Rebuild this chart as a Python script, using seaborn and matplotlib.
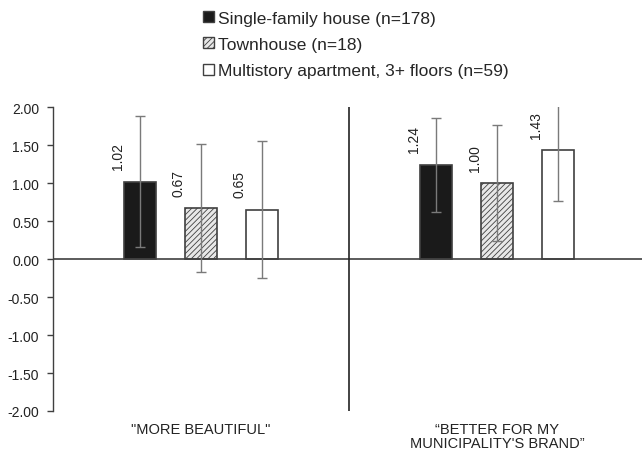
import numpy as np
import pandas as pd
import matplotlib
matplotlib.use('Agg')
import matplotlib.pyplot as plt
import matplotlib.patches as mpatches
import seaborn as sns

# data
categories = ['"MORE BEAUTIFUL"', '\u201cBETTER FOR MY\nMUNICIPALITY\'S BRAND\u201d']
housing = ['Single-family house (n=178)', 'Townhouse (n=18)',
           'Multistory apartment, 3+ floors (n=59)']
means_beautiful = [1.02, 0.67, 0.65]
means_brand = [1.24, 1.00, 1.43]
err_beautiful = [0.86, 0.84, 0.90]
err_brand = [0.62, 0.76, 0.66]
yticks = [-2.0, -1.5, -1.0, -0.5, 0.0, 0.5, 1.0, 1.5, 2.0]

df = pd.DataFrame({
    'statement': [categories[0]] * 3 + [categories[1]] * 3,
    'housing': housing * 2,
    'mean': means_beautiful + means_brand,
    'err': err_beautiful + err_brand,
})

sns.set_style('white')
plt.rcParams['font.family'] = ['Liberation Sans', 'DejaVu Sans']
plt.rcParams['hatch.linewidth'] = 0.6

fig = plt.figure(figsize=(6.42, 4.56), dpi=100)
ax = fig.add_axes([0.0826, 0.0965, 0.922, 0.6665])

faces = ['#1a1a1a', '#ffffff', '#ffffff']
hatches = ['', '//////', '']
edge = '#404040'

sns.barplot(data=df, x='statement', y='mean', hue='housing', hue_order=housing,
            palette=faces, width=0.62, gap=0.48, edgecolor=edge, linewidth=1.2,
            legend=False, ax=ax)

# style bars per hue and add error bars + labels
bars = [p for p in ax.patches if isinstance(p, mpatches.Rectangle)]
for i, h in enumerate(housing):
    sub = df[df['housing'] == h]
    for j, (_, row) in enumerate(sub.iterrows()):
        p = bars[i * len(categories) + j]
        p.set_hatch(hatches[i])
        if hatches[i]:
            p.set_facecolor('#e8e8e8')
        cx = p.get_x() + p.get_width() / 2
        ax.errorbar(cx, row['mean'], yerr=row['err'], fmt='none',
                    ecolor='#7a7a7a', elinewidth=1.0, capsize=3.5, capthick=1.0,
                    zorder=5, clip_on=True)
        ax.annotate(f"{row['mean']:.2f}", xy=(cx, row['mean']), xytext=(-16, 9),
                    textcoords='offset points', rotation=90, ha='center', va='bottom',
                    fontsize=10, color='#222222')

ax.set_ylim(-2, 2)
ax.set_xlim(-0.5, 1.5)
ax.set_yticks(yticks)
ax.set_yticklabels([f'{t:.2f}' for t in yticks], fontsize=10, color='#222222')
ax.tick_params(axis='y', which='major', left=True, length=4, width=1, color=edge, pad=6)
ax.set_xticks([])
ax.set_xlabel('')
ax.set_ylabel('')

for s in ['top', 'right', 'bottom']:
    ax.spines[s].set_visible(False)
ax.spines['left'].set_color(edge)
ax.spines['left'].set_linewidth(1)
ax.axhline(0, color=edge, linewidth=1.2, zorder=1)
ax.axvline(0.5, color='#222222', linewidth=1.2, zorder=1)

for k, c in enumerate(categories):
    ax.text(k, -0.035, c, transform=ax.get_xaxis_transform(), ha='center', va='top',
            fontsize=10.5, color='#222222', linespacing=1.05)

handles = [mpatches.Patch(facecolor=faces[i] if not hatches[i] else '#e8e8e8',
                          edgecolor=edge, hatch=hatches[i], linewidth=1, label=housing[i])
           for i in range(3)]
fig.legend(handles=handles, loc='upper left', bbox_to_anchor=(0.306, 0.99), frameon=False,
           fontsize=12.5, handlelength=0.6, handleheight=0.6, handletextpad=0.25,
           labelspacing=0.66, borderaxespad=0)

fig.savefig('out.png', dpi=100)
